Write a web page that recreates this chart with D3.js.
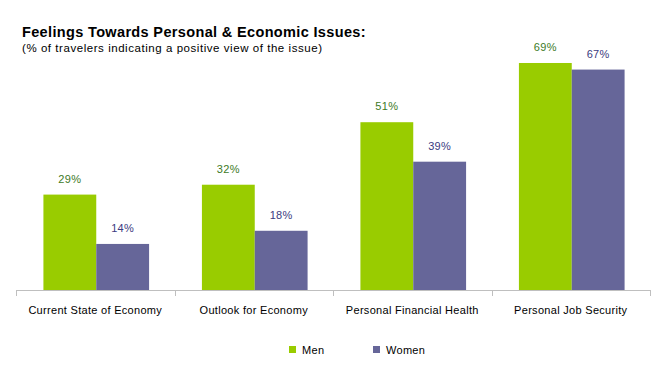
<!DOCTYPE html>
<html>
<head>
<meta charset="utf-8">
<script src="https://cdn.jsdelivr.net/npm/d3@7"></script>
<style>
  body { margin: 0; background: #fff; }
  text { font-family: "Liberation Sans", Arial, sans-serif; }
</style>
</head>
<body>
<div id="chart"></div>
<script>
// Chart data
const categories = ["Current State of Economy", "Outlook for Economy", "Personal Financial Health", "Personal Job Security"];
const seriesNames = ["Men", "Women"];
const menValues = [29, 32, 51, 69];
const womenValues = [14, 18, 39, 67];

const colors = { Men: "#99cc00", Women: "#666699" };
const labelColors = { Men: "#3d7a1f", Women: "#3b3b80" };

const width = 666, height = 369;
const baseline = 290;

const svg = d3.select("#chart").append("svg")
    .attr("width", width)
    .attr("height", height);

// Title
svg.append("text")
    .attr("x", 22).attr("y", 37)
    .style("font-size", "14.5px").style("font-weight", "bold")
    .style("letter-spacing", "0.35px")
    .text("Feelings Towards Personal & Economic Issues:");
svg.append("text")
    .attr("x", 22).attr("y", 52)
    .style("font-size", "11.5px")
    .style("letter-spacing", "0.55px")
    .text("(% of travelers indicating a positive view of the issue)");

const x = d3.scaleBand()
    .domain(categories)
    .range([16, 650])
    .paddingInner(0)
    .paddingOuter(0);

const xInner = d3.scaleBand()
    .domain(seriesNames)
    .range([0, x.bandwidth()])
    .paddingInner(0)
    .paddingOuter(0.5);

const y = d3.scaleLinear()
    .domain([0, 80])
    .range([baseline, baseline - 80 * 3.29]);

const data = categories.map((c, i) => ({
    category: c,
    values: [
        { series: "Men", value: menValues[i] },
        { series: "Women", value: womenValues[i] }
    ]
}));

const groups = svg.selectAll(".group")
    .data(data)
    .enter().append("g")
    .attr("class", "group")
    .attr("transform", d => `translate(${x(d.category) + 1},0)`);

groups.selectAll("rect")
    .data(d => d.values)
    .enter().append("rect")
    .attr("x", d => xInner(d.series))
    .attr("y", d => y(d.value))
    .attr("width", xInner.bandwidth())
    .attr("height", d => y(0) - y(d.value))
    .attr("fill", d => colors[d.series]);

groups.selectAll(".val")
    .data(d => d.values)
    .enter().append("text")
    .attr("class", "val")
    .attr("x", d => xInner(d.series) + xInner.bandwidth() / 2)
    .attr("y", d => y(d.value) - 12)
    .attr("text-anchor", "middle")
    .style("font-size", "11px")
    .style("letter-spacing", "0.3px")
    .attr("fill", d => labelColors[d.series])
    .text(d => d.value + "%");

// Axis
const axis = svg.append("g")
    .attr("transform", `translate(0,${baseline})`)
    .call(d3.axisBottom(x).tickSize(0).tickPadding(16));
axis.select(".domain").attr("stroke", "#bfbfbf").attr("d", "M16,0.5H650");
axis.selectAll("text")
    .style("font-size", "11px")
    .style("letter-spacing", "0.3px")
    .attr("fill", "#000")
    .style("font-family", "'Liberation Sans', Arial, sans-serif");

// Category boundary ticks
const boundaries = categories.map(c => x(c)).concat([x.range()[1]]);
axis.selectAll(".bound")
    .data(boundaries)
    .enter().append("line")
    .attr("class", "bound")
    .attr("x1", d => Math.round(d) + 0.5)
    .attr("x2", d => Math.round(d) + 0.5)
    .attr("y1", 0).attr("y2", 6)
    .attr("stroke", "#bfbfbf");

// Legend
const legendX = [289, 373];
const legend = svg.selectAll(".legend")
    .data(seriesNames)
    .enter().append("g")
    .attr("class", "legend")
    .attr("transform", (d, i) => `translate(${legendX[i]},346)`);
legend.append("rect")
    .attr("width", 7).attr("height", 7)
    .attr("fill", d => colors[d]);
legend.append("text")
    .attr("x", 13).attr("y", 7.5)
    .style("font-size", "11px")
    .style("letter-spacing", "0.3px")
    .text(d => d);
</script>
</body>
</html>
